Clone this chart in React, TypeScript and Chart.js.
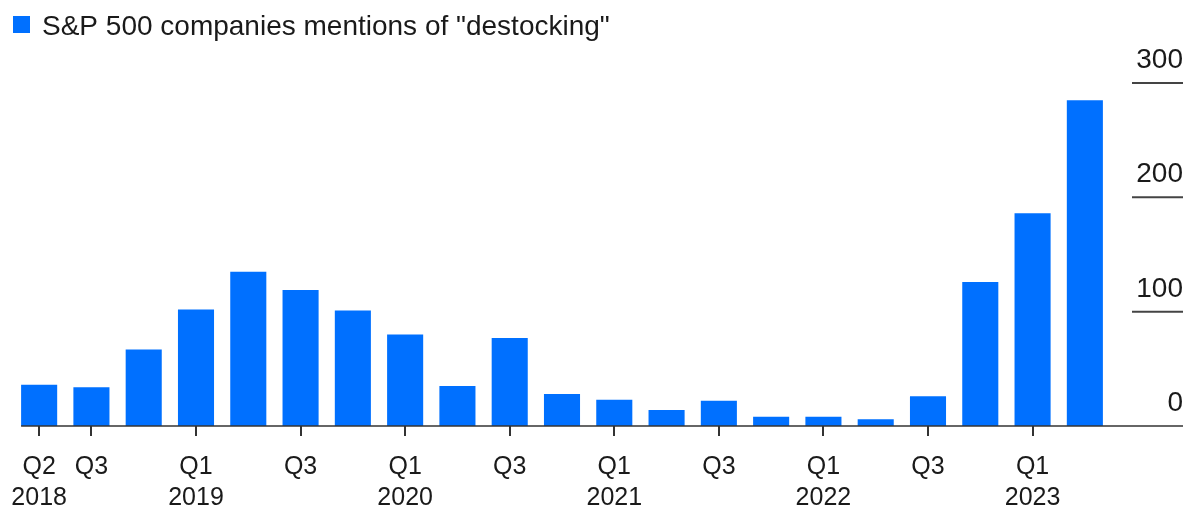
import { useEffect, useRef } from 'react';
import { Chart, registerables } from 'chart.js';

Chart.register(...registerables);

const FONT = "'Liberation Sans', Arial, Helvetica, sans-serif";
const BAR_COLOR = '#0070ff';
const TEXT_COLOR = '#1a1a1a';

const seriesName = 'S&P 500 companies mentions of "destocking"';

const quarters = [
  'Q2 2018', 'Q3 2018', 'Q4 2018',
  'Q1 2019', 'Q2 2019', 'Q3 2019', 'Q4 2019',
  'Q1 2020', 'Q2 2020', 'Q3 2020', 'Q4 2020',
  'Q1 2021', 'Q2 2021', 'Q3 2021', 'Q4 2021',
  'Q1 2022', 'Q2 2022', 'Q3 2022', 'Q4 2022',
  'Q1 2023', 'Q2 2023',
];

const tickLabels: (string | string[])[] = [
  ['Q2', '2018'], 'Q3', '',
  ['Q1', '2019'], '', 'Q3', '',
  ['Q1', '2020'], '', 'Q3', '',
  ['Q1', '2021'], '', 'Q3', '',
  ['Q1', '2022'], '', 'Q3', '',
  ['Q1', '2023'], '',
];

const mentions = [36, 34, 67, 102, 135, 119, 101, 80, 35, 77, 28, 23, 14, 22, 8, 8, 6, 26, 126, 186, 285];

const yTicks = [0, 100, 200, 300];

const overlayPlugin = {
  id: 'overlay',
  afterDraw(chart: any) {
    const { ctx, chartArea, scales } = chart;
    const y = scales.y;
    ctx.save();

    // legend
    ctx.fillStyle = BAR_COLOR;
    ctx.fillRect(13, 16, 17, 17);
    ctx.fillStyle = TEXT_COLOR;
    ctx.font = `28px ${FONT}`;
    ctx.textAlign = 'left';
    ctx.textBaseline = 'alphabetic';
    ctx.fillText(seriesName, 42, 35);

    // baseline (zero axis)
    const meta = chart.getDatasetMeta(0);
    const first: any = meta.data[0];
    const x0 = first.x - first.width / 2;
    const axisRight = chart.width - 7;
    const y0 = y.getPixelForValue(0);
    ctx.strokeStyle = '#333';
    ctx.lineWidth = 1.6;
    ctx.beginPath();
    ctx.moveTo(x0, y0);
    ctx.lineTo(axisRight, y0);
    ctx.stroke();

    // right-hand value ticks
    ctx.font = `28px ${FONT}`;
    ctx.textAlign = 'right';
    ctx.fillStyle = TEXT_COLOR;
    for (const v of yTicks) {
      const py = y.getPixelForValue(v);
      if (v !== 0) {
        ctx.strokeStyle = '#444';
        ctx.lineWidth = 2;
        ctx.beginPath();
        ctx.moveTo(chartArea.right + 21, py);
        ctx.lineTo(axisRight, py);
        ctx.stroke();
      }
      ctx.fillText(String(v), axisRight, py - 15);
    }
    ctx.restore();
  },
};

export default function App() {
  const canvasRef = useRef<HTMLCanvasElement | null>(null);

  useEffect(() => {
    if (!canvasRef.current) return;
    Chart.defaults.font.family = FONT;
    const chart = new Chart(canvasRef.current, {
      type: 'bar',
      data: {
        labels: quarters,
        datasets: [
          {
            label: seriesName,
            data: mentions,
            backgroundColor: BAR_COLOR,
            borderWidth: 0,
            categoryPercentage: 1,
            barPercentage: 0.69,
          },
        ],
      },
      options: {
        animation: false,
        responsive: true,
        maintainAspectRatio: false,
        layout: { padding: { top: 83, left: 13, right: 79, bottom: -17 } },
        plugins: {
          legend: { display: false },
          tooltip: { enabled: false },
        },
        scales: {
          x: {
            type: 'category',
            offset: true,
            border: { display: false },
            afterFit: (scale: any) => {
              scale.paddingLeft = 0;
              scale.paddingRight = 0;
            },
            grid: {
              offset: false,
              drawOnChartArea: false,
              drawTicks: true,
              tickLength: 10,
              lineWidth: 2,
              color: (c: any) => (tickLabels[c.index] ? '#333' : 'rgba(0,0,0,0)'),
            },
            ticks: {
              autoSkip: false,
              maxRotation: 0,
              minRotation: 0,
              padding: 15,
              color: TEXT_COLOR,
              font: { size: 25, family: FONT, lineHeight: 1.26 },
              callback: (_v: any, i: number) => tickLabels[i],
            },
          },
          y: {
            display: false,
            min: 0,
            max: 300,
          },
        },
      },
      plugins: [overlayPlugin],
    });
    return () => chart.destroy();
  }, []);

  return (
    <div style={{ position: 'fixed', left: 0, top: 0, width: 1190, height: 512, background: '#fff' }}>
      <canvas ref={canvasRef} />
    </div>
  );
}
